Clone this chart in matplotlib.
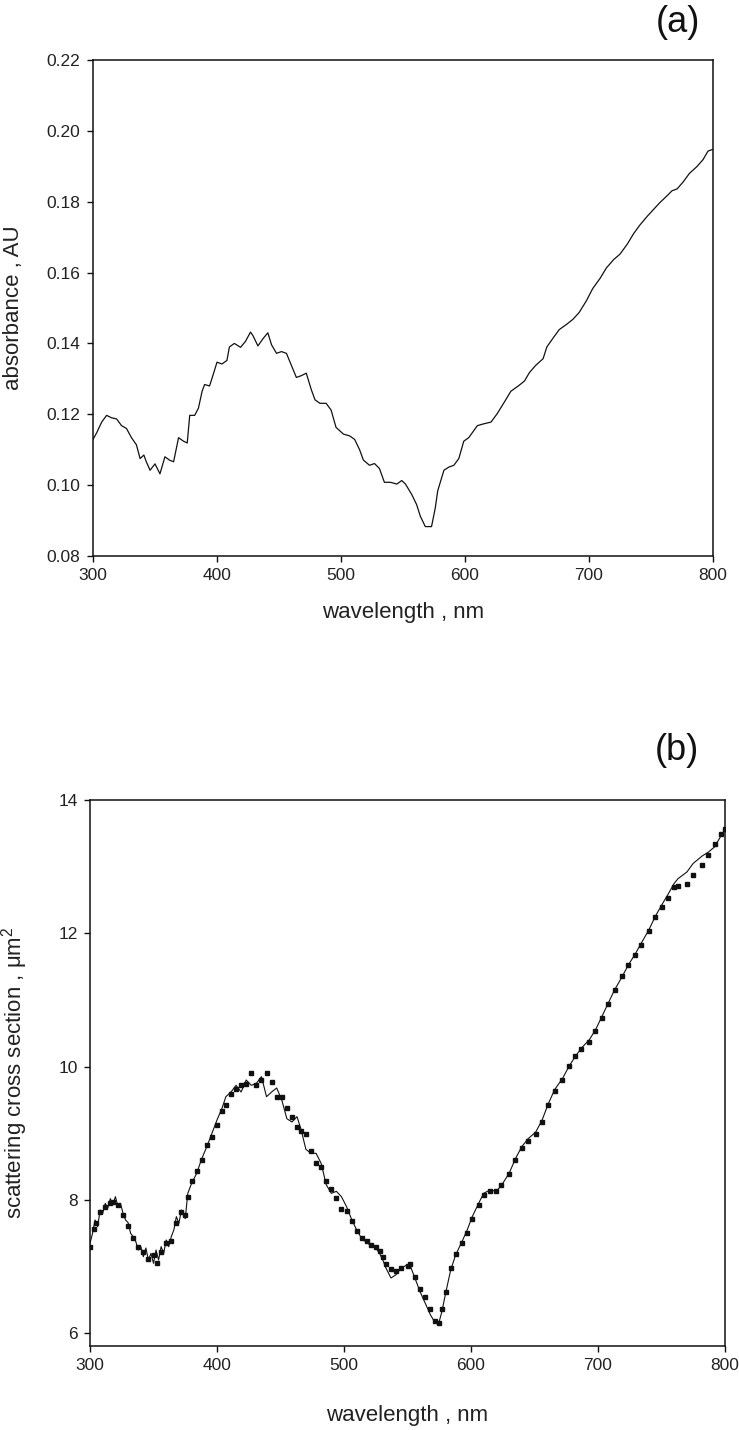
import numpy as np
import matplotlib
matplotlib.use('Agg')
import matplotlib.pyplot as plt

plt.rcParams['font.family'] = ['Liberation Sans', 'DejaVu Sans']
plt.rcParams['mathtext.default'] = 'regular'

# (a) absorbance spectrum
wl_a = [300, 303, 307, 311, 315, 319, 323, 327, 331, 335, 338, 341, 343, 346, 350, 354, 358, 362,
        365, 369, 373, 376, 378, 382, 385, 388, 390, 394, 397, 400, 404, 408, 410, 414, 419, 423,
        427, 429, 433, 437, 441, 444, 448, 452, 456, 460, 464, 468, 472, 476, 479, 483, 488, 492,
        496, 502, 507, 511, 515, 518, 523, 527, 531, 535, 540, 545, 549, 552, 557, 561, 564, 568,
        573, 576, 578, 583, 587, 591, 595, 599, 603, 610, 615, 621, 626, 632, 637, 643, 648, 652,
        657, 663, 666, 671, 676, 682, 687, 692, 698, 703, 709, 714, 720, 725, 731, 736, 741, 747,
        752, 757, 763, 767, 771, 776, 781, 787, 792, 796, 800]
absorb_a = [0.1129, 0.1148, 0.1178, 0.1197, 0.1190, 0.1187, 0.1168, 0.1160, 0.1134, 0.1114, 0.1075,
            0.1085, 0.1066, 0.1042, 0.1060, 0.1032, 0.1080, 0.1070, 0.1066, 0.1134, 0.1124, 0.1119,
            0.1197, 0.1197, 0.1217, 0.1265, 0.1284, 0.1280, 0.1313, 0.1347, 0.1342, 0.1352, 0.1390,
            0.1400, 0.1389, 0.1406, 0.1432, 0.1422, 0.1393, 0.1413, 0.1430, 0.1396, 0.1372, 0.1377,
            0.1372, 0.1338, 0.1304, 0.1309, 0.1316, 0.1270, 0.1241, 0.1231, 0.1231, 0.1212, 0.1163,
            0.1144, 0.1139, 0.1129, 0.1100, 0.1071, 0.1056, 0.1061, 0.1047, 0.1008, 0.1008, 0.1003,
            0.1013, 0.1003, 0.0974, 0.0945, 0.0912, 0.0883, 0.0883, 0.0935, 0.0984, 0.1042, 0.1051,
            0.1056, 0.1075, 0.1124, 0.1134, 0.1168, 0.1173, 0.1178, 0.1202, 0.1236, 0.1265, 0.1280,
            0.1294, 0.1318, 0.1338, 0.1357, 0.1390, 0.1415, 0.1439, 0.1454, 0.1468, 0.1487, 0.1521,
            0.1555, 0.1584, 0.1613, 0.1637, 0.1652, 0.1681, 0.1710, 0.1734, 0.1759, 0.1778, 0.1797,
            0.1817, 0.1831, 0.1836, 0.1856, 0.1880, 0.1899, 0.1919, 0.1943, 0.1948]

# (b) scattering cross section: points (dotted) and solid line
wl_pts = [300, 303, 305, 308, 312, 316, 318, 322, 326, 330, 334, 338, 342, 346, 350, 353, 356, 360,
          364, 368, 372, 375, 377, 380, 384, 388, 392, 396, 400, 404, 407, 411, 415, 419, 423, 427,
          431, 435, 439, 443, 447, 451, 455, 459, 463, 466, 470, 474, 478, 482, 486, 490, 494, 498,
          502, 506, 510, 514, 518, 521, 525, 528, 531, 533, 537, 541, 545, 550, 552, 556, 560, 564,
          568, 572, 575, 577, 580, 584, 588, 593, 597, 601, 606, 610, 615, 620, 624, 630, 635, 640,
          645, 651, 656, 661, 666, 672, 677, 682, 687, 693, 698, 703, 708, 713, 719, 724, 729, 734,
          740, 745, 750, 755, 760, 763, 770, 775, 782, 787, 792, 797, 800]
sca_pts = [7.30, 7.56, 7.66, 7.82, 7.90, 7.95, 7.97, 7.92, 7.77, 7.61, 7.43, 7.30, 7.22, 7.11, 7.17,
           7.06, 7.22, 7.35, 7.38, 7.66, 7.82, 7.77, 8.05, 8.29, 8.44, 8.60, 8.83, 8.94, 9.12, 9.33,
           9.43, 9.59, 9.67, 9.72, 9.74, 9.90, 9.72, 9.80, 9.90, 9.77, 9.54, 9.54, 9.38, 9.25, 9.09,
           9.04, 8.99, 8.73, 8.55, 8.49, 8.29, 8.16, 8.03, 7.87, 7.84, 7.69, 7.53, 7.43, 7.38, 7.32,
           7.30, 7.24, 7.14, 7.04, 6.96, 6.93, 6.98, 7.01, 7.04, 6.85, 6.67, 6.54, 6.36, 6.18, 6.15,
           6.36, 6.62, 6.98, 7.19, 7.35, 7.51, 7.71, 7.92, 8.08, 8.13, 8.13, 8.23, 8.39, 8.60, 8.78,
           8.89, 8.99, 9.17, 9.43, 9.64, 9.80, 10.01, 10.16, 10.27, 10.37, 10.53, 10.73, 10.94, 11.15,
           11.36, 11.52, 11.67, 11.83, 12.04, 12.24, 12.40, 12.53, 12.69, 12.71, 12.74, 12.87, 13.03,
           13.18, 13.34, 13.49, 13.56]

wl_line = [300, 302, 304, 306, 308, 310, 312, 314, 316, 318, 320, 322, 324, 326, 328, 330, 332, 334,
           336, 338, 340, 342, 344, 346, 348, 350, 352, 354, 356, 358, 360, 362, 364, 366, 368, 370,
           372, 375, 377, 380, 384, 388, 392, 396, 400, 404, 407, 411, 415, 419, 423, 427, 431, 435,
           439, 443, 447, 451, 455, 459, 463, 466, 470, 474, 478, 482, 486, 490, 494, 498, 502, 506,
           510, 514, 518, 521, 525, 528, 531, 533, 537, 541, 545, 550, 552, 556, 560, 564, 568, 572,
           575, 577, 580, 584, 588, 593, 597, 601, 606, 610, 615, 620, 624, 630, 635, 640, 645, 651,
           656, 661, 666, 672, 677, 682, 687, 693, 698, 703, 708, 713, 719, 724, 729, 734, 740, 745,
           750, 755, 760, 763, 770, 775, 782, 787, 792, 797, 800]
sca_line = [7.35, 7.50, 7.70, 7.60, 7.85, 7.80, 7.95, 7.88, 8.02, 7.93, 8.05, 7.90, 7.95, 7.80, 7.70,
            7.66, 7.50, 7.45, 7.38, 7.25, 7.30, 7.15, 7.28, 7.10, 7.20, 7.05, 7.25, 7.10, 7.30, 7.20,
            7.40, 7.30, 7.45, 7.55, 7.75, 7.65, 7.85, 7.72, 8.10, 8.25, 8.40, 8.62, 8.80, 9.00, 9.20,
            9.38, 9.55, 9.62, 9.72, 9.62, 9.80, 9.72, 9.75, 9.85, 9.55, 9.62, 9.68, 9.50, 9.22, 9.17,
            9.25, 9.07, 8.76, 8.70, 8.70, 8.55, 8.23, 8.10, 8.13, 8.05, 7.90, 7.71, 7.55, 7.42, 7.36,
            7.32, 7.28, 7.20, 7.08, 6.98, 6.83, 6.88, 6.98, 7.03, 7.02, 6.82, 6.62, 6.45, 6.28, 6.15,
            6.18, 6.32, 6.60, 6.95, 7.18, 7.38, 7.55, 7.75, 7.95, 8.10, 8.15, 8.13, 8.22, 8.40, 8.62,
            8.80, 8.92, 9.02, 9.20, 9.45, 9.66, 9.82, 10.00, 10.15, 10.28, 10.40, 10.55, 10.75, 10.95,
            11.15, 11.35, 11.53, 11.68, 11.85, 12.05, 12.25, 12.42, 12.58, 12.75, 12.82, 12.92, 13.05,
            13.16, 13.22, 13.30, 13.47, 13.56]

x_ticks = [300, 400, 500, 600, 700, 800]
y_ticks_a = [0.08, 0.10, 0.12, 0.14, 0.16, 0.18, 0.20, 0.22]
y_ticks_b = [6, 8, 10, 12, 14]

ink = '#111111'
txt = '#222222'
fig = plt.figure(figsize=(7.39, 14.30), dpi=100)


def style_axes(ax):
    for s in ax.spines.values():
        s.set_linewidth(1.1)
        s.set_color(ink)
    ax.tick_params(direction='out', length=4, width=1.0, color=ink, pad=5,
                   labelsize=12.5, labelcolor=txt, top=False, right=False)
    ax.set_xticks(x_ticks)
    ax.set_xlim(300, 800)


# panel (a)
ax1 = fig.add_axes([93 / 739, 1 - 556 / 1430, 620 / 739, 496 / 1430])
ax1.plot(wl_a, absorb_a, color=ink, lw=0.9)
style_axes(ax1)
ax1.set_ylim(0.08, 0.22)
ax1.set_yticks(y_ticks_a)
ax1.set_yticklabels(['%.2f' % v for v in y_ticks_a])
ax1.set_xlabel('wavelength , nm', fontsize=16, color=txt)
ax1.set_ylabel('absorbance , AU', fontsize=16, color=txt)
ax1.xaxis.set_label_coords(0.5, -0.092)
ax1.yaxis.set_label_coords(-0.112, 0.5)

# panel (b)
ax2 = fig.add_axes([90 / 739, 1 - 1346 / 1430, 635 / 739, 546 / 1430])
ax2.plot(wl_line, sca_line, color=ink, lw=0.8)
ax2.plot(wl_pts, sca_pts, linestyle='none', marker='s', ms=2.6, color=ink, mec=ink)
style_axes(ax2)
ax2.set_ylim(5.81, 14)
ax2.set_yticks(y_ticks_b)
ax2.set_xlabel('wavelength , nm', fontsize=16, color=txt)
ax2.set_ylabel('scattering cross section , μm$^2$', fontsize=16, color=txt)
ax2.xaxis.set_label_coords(0.5, -0.108)
ax2.yaxis.set_label_coords(-0.095, 0.5)

fig.text(678 / 739, 1 - 22 / 1430, '(a)', fontsize=26, ha='center', va='center', color=ink)
fig.text(677 / 739, 1 - 750 / 1430, '(b)', fontsize=26, ha='center', va='center', color=ink)

fig.savefig('out.png', dpi=100)
